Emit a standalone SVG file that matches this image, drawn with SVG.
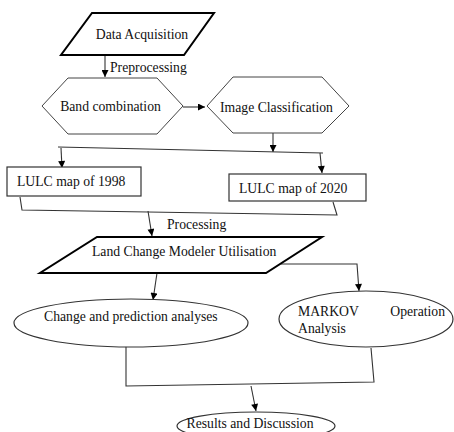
<svg xmlns="http://www.w3.org/2000/svg" width="454" height="432" viewBox="0 0 454 432">
<style>
text{font-family:"Liberation Serif","Times New Roman",serif;font-size:13.7px;fill:#111}
.para{fill:#fff;stroke:#000;stroke-width:2}
.hex{fill:#fff;stroke:#444;stroke-width:1}
.box{fill:#fff;stroke:#333;stroke-width:1.2}
.ell{fill:#fff;stroke:#333;stroke-width:1.2}
.c{fill:none;stroke:#333;stroke-width:1.1}
.a{fill:none;stroke:#333;stroke-width:1.1;marker-end:url(#ah)}
</style>
<defs>
<marker id="ah" viewBox="0 0 10 10" refX="10" refY="5" markerWidth="9" markerHeight="7" markerUnits="userSpaceOnUse" orient="auto">
<path d="M0,0 L10,5 L0,10 z" fill="#000"/>
</marker>
</defs>
<rect width="454" height="432" fill="#fff"/>
<g id="connectors">
<line class="a" x1="105" y1="55" x2="105" y2="77"/>
<line class="a" x1="183" y1="107" x2="205" y2="107"/>
<line class="a" x1="273" y1="133" x2="273" y2="152"/>
<polyline class="c" points="58,147 323,153"/>
<line class="a" x1="61" y1="148" x2="62" y2="168"/>
<line class="a" x1="320" y1="153" x2="322" y2="173"/>
<polyline class="c" points="20,197 22,210 337,215 333,202"/>
<line class="a" x1="148" y1="211" x2="152" y2="236"/>
<line class="a" x1="157" y1="273" x2="153" y2="300"/>
<polyline class="a" points="281,264 357,264 359,291"/>
<polyline class="c" points="126,343 126,386 374,382 371,348"/>
<line class="a" x1="251" y1="386" x2="256" y2="411"/>
</g>
<g id="data-acquisition">
<polygon class="para" points="92,13 214,13 184,55 61,55"/>
<text x="142" y="39" text-anchor="middle">Data Acquisition</text>
</g>
<g id="preprocessing-label">
<text x="110" y="72">Preprocessing</text>
</g>
<g id="band-combination">
<polygon class="hex" points="42,106 68,78 157,78 183,106 157,134 68,134"/>
<text x="110.5" y="111" text-anchor="middle">Band combination</text>
</g>
<g id="image-classification">
<polygon class="hex" points="207,106 233,77 322,77 349,106 322,133 233,133"/>
<text x="276.5" y="112" text-anchor="middle">Image Classification</text>
</g>
<g id="lulc-1998">
<rect class="box" x="7" y="167" width="134" height="29"/>
<text x="17" y="186">LULC map of 1998</text>
</g>
<g id="lulc-2020">
<rect class="box" x="229" y="174" width="137" height="27"/>
<text x="239" y="193">LULC map of 2020</text>
</g>
<g id="processing-label">
<text x="167" y="229">Processing</text>
</g>
<g id="land-change-modeler">
<polygon class="para" points="97,237 322,237 266,273 40,273"/>
<text x="92" y="256">Land Change Modeler Utilisation</text>
</g>
<g id="change-prediction">
<ellipse class="ell" cx="131" cy="323" rx="117" ry="24"/>
<text x="44" y="321">Change and prediction analyses</text>
</g>
<g id="markov">
<ellipse class="ell" cx="366" cy="319" rx="87" ry="28"/>
<text x="298" y="316">MARKOV</text>
<text x="445" y="316" text-anchor="end">Operation</text>
<text x="298" y="333">Analysis</text>
</g>
<g id="results">
<ellipse class="ell" cx="256" cy="426" rx="79" ry="14"/>
<text x="250" y="428" text-anchor="middle">Results and Discussion</text>
</g>
</svg>
